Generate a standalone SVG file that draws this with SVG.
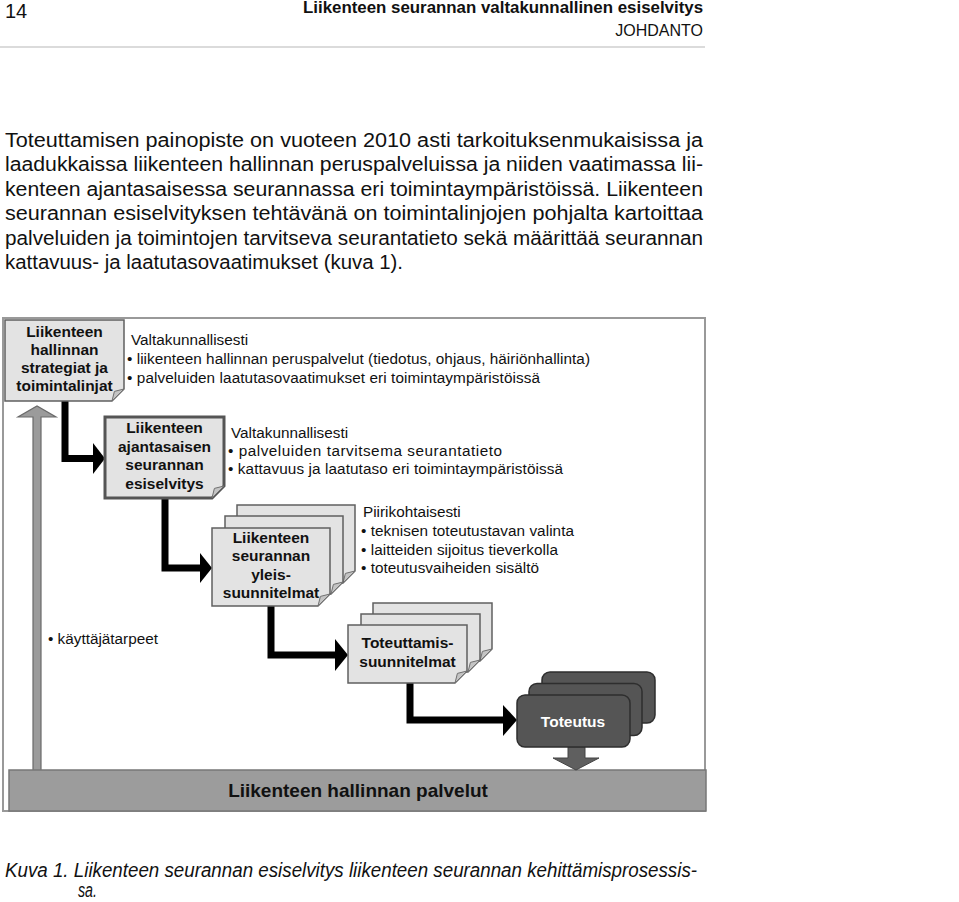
<svg xmlns="http://www.w3.org/2000/svg" width="959" height="902" viewBox="0 0 959 902">
<style>
text{font-family:"Liberation Sans",Arial,sans-serif;fill:#111}
.hdr{font-size:16px}
.b{font-weight:bold}
.para{font-size:19.5px}
.sm{font-size:15.3px}
.lbl{font-size:15.5px;font-weight:bold;text-anchor:middle}
.cap{font-size:19.5px;font-style:italic}
.box{fill:#e3e3e3;stroke:#606060;stroke-width:1.5}
.box2{fill:#e3e3e3;stroke:#555;stroke-width:3}
.fold{fill:#c4c4c4;stroke:#707070;stroke-width:1}
.dark{fill:#555;stroke:#2e2e2e;stroke-width:1.5}
.conn{fill:none;stroke:#000;stroke-width:7}
.head{fill:#000}
</style>
<rect width="959" height="902" fill="#fff"/>

<g id="header">
<text x="5" y="18" style="font-size:20px">14</text>
<text x="703" y="13" class="hdr b" text-anchor="end" textLength="400" lengthAdjust="spacingAndGlyphs">Liikenteen seurannan valtakunnallinen esiselvitys</text>
<text x="703" y="36" class="hdr" text-anchor="end">JOHDANTO</text>
<line x1="0" y1="47" x2="705" y2="47" stroke="#cfcfcf" stroke-width="1.5"/>
</g>

<g id="paragraph">
<text x="5" y="147" class="para" textLength="698" lengthAdjust="spacingAndGlyphs">Toteuttamisen painopiste on vuoteen 2010 asti tarkoituksenmukaisissa ja</text>
<text x="5" y="171" class="para" textLength="698" lengthAdjust="spacingAndGlyphs">laadukkaissa liikenteen hallinnan peruspalveluissa ja niiden vaatimassa lii-</text>
<text x="5" y="196" class="para" textLength="698" lengthAdjust="spacingAndGlyphs">kenteen ajantasaisessa seurannassa eri toimintaympäristöissä. Liikenteen</text>
<text x="5" y="220" class="para" textLength="698" lengthAdjust="spacingAndGlyphs">seurannan esiselvityksen tehtävänä on toimintalinjojen pohjalta kartoittaa</text>
<text x="5" y="245" class="para" textLength="698" lengthAdjust="spacingAndGlyphs">palveluiden ja toimintojen tarvitseva seurantatieto sekä määrittää seurannan</text>
<text x="5" y="269" class="para" textLength="398" lengthAdjust="spacingAndGlyphs">kattavuus- ja laatutasovaatimukset (kuva 1).</text>
</g>

<g id="frame">
<rect x="3" y="318" width="702" height="493" fill="none" stroke="#999" stroke-width="2"/>
</g>

<g id="feedback-arrow">
<path d="M33,771 V417 H18 L37,406 L56,417 H41 V771 Z" fill="#9b9b9b" stroke="#6a6a6a" stroke-width="1.2"/>
</g>

<g id="services">
<rect x="9" y="770" width="697" height="41" fill="#9c9c9c" stroke="#777" stroke-width="1.5"/>
<text x="358" y="797" text-anchor="middle" class="b" style="font-size:19px">Liikenteen hallinnan palvelut</text>
</g>

<g id="connectors">
<polyline class="conn" points="65,401 65,458.5 94,458.5"/>
<polygon class="head" points="93,443 105,458.5 93,474"/>
<polyline class="conn" points="165,498 165,568 201,568"/>
<polygon class="head" points="200,553 212,568 200,583"/>
<polyline class="conn" points="271,606 271,655 337,655"/>
<polygon class="head" points="335,639 348,655 335,671"/>
<polyline class="conn" points="410,683 410,720 505,720"/>
<polygon class="head" points="503,705 517,720 503,736"/>
<path d="M568,747 V758 H553 L576,770 L599,758 H585 V747 Z" fill="#5f5f5f" stroke="#444" stroke-width="1"/>
</g>

<g id="strategies">
<path class="box" d="M5,320 H124 V389 L112,401 H5 Z"/>
<path class="fold" d="M124,389 L112,401 L114.4,391.4 Z"/>
<text class="lbl" x="64.5" y="337">Liikenteen</text>
<text class="lbl" x="64.5" y="355">hallinnan</text>
<text class="lbl" x="64.5" y="373">strategiat ja</text>
<text class="lbl" x="64.5" y="391">toimintalinjat</text>
<text class="sm" x="131" y="345">Valtakunnallisesti</text>
<text class="sm" x="127" y="364" textLength="463">• liikenteen hallinnan peruspalvelut (tiedotus, ohjaus, häiriönhallinta)</text>
<text class="sm" x="127" y="383" textLength="413">• palveluiden laatutasovaatimukset eri toimintaympäristöissä</text>
</g>

<g id="prestudy">
<path class="box2" d="M105,417 H224 V486 L212,498 H105 Z"/>
<path class="fold" d="M224,486 L212,498 L214.4,488.4 Z"/>
<text class="lbl" x="164.5" y="433">Liikenteen</text>
<text class="lbl" x="164.5" y="451.5">ajantasaisen</text>
<text class="lbl" x="164.5" y="470">seurannan</text>
<text class="lbl" x="164.5" y="488.5">esiselvitys</text>
<text class="sm" x="231" y="438">Valtakunnallisesti</text>
<text class="sm" x="228" y="456" textLength="274">• palveluiden tarvitsema seurantatieto</text>
<text class="sm" x="228" y="474" textLength="335">• kattavuus ja laatutaso eri toimintaympäristöissä</text>
</g>

<g id="general-plans">
<path class="box" d="M237,505 H355 V571 L343,583 H237 Z"/>
<path class="fold" d="M355,571 L343,583 L345.4,573.4 Z"/>
<path class="box" d="M225,516 H343 V582 L331,594 H225 Z"/>
<path class="fold" d="M343,582 L331,594 L333.4,584.4 Z"/>
<path class="box" d="M212,528 H330 V594 L318,606 H212 Z"/>
<path class="fold" d="M330,594 L318,606 L320.4,596.4 Z"/>
<text class="lbl" x="271" y="543">Liikenteen</text>
<text class="lbl" x="271" y="561">seurannan</text>
<text class="lbl" x="271" y="580">yleis-</text>
<text class="lbl" x="271" y="598">suunnitelmat</text>
<text class="sm" x="363" y="517">Piirikohtaisesti</text>
<text class="sm" x="361" y="535.5" textLength="213">• teknisen toteutustavan valinta</text>
<text class="sm" x="361" y="554.5" textLength="197">• laitteiden sijoitus tieverkolla</text>
<text class="sm" x="361" y="573" textLength="178">• toteutusvaiheiden sisältö</text>
</g>

<g id="implementation-plans">
<path class="box" d="M373,603 H492 V649 L480,661 H373 Z"/>
<path class="fold" d="M492,649 L480,661 L482.4,651.4 Z"/>
<path class="box" d="M361,614 H480 V660 L468,672 H361 Z"/>
<path class="fold" d="M480,660 L468,672 L470.4,662.4 Z"/>
<path class="box" d="M348,625 H467 V671 L455,683 H348 Z"/>
<path class="fold" d="M467,671 L455,683 L457.4,673.4 Z"/>
<text class="lbl" x="407.5" y="648">Toteuttamis-</text>
<text class="lbl" x="407.5" y="667">suunnitelmat</text>
</g>

<g id="implementation">
<rect class="dark" x="542" y="672" width="113" height="51" rx="8"/>
<rect class="dark" x="529" y="683.5" width="113" height="52" rx="8"/>
<rect class="dark" x="517" y="695" width="113" height="52" rx="8"/>
<text class="lbl" x="573" y="727" style="fill:#fff">Toteutus</text>
</g>

<g id="user-needs">
<text class="sm" x="48" y="644">• käyttäjätarpeet</text>
</g>

<g id="caption">
<text x="5" y="877" class="cap" textLength="692" lengthAdjust="spacingAndGlyphs">Kuva 1. Liikenteen seurannan esiselvitys liikenteen seurannan kehittämisprosessis-</text>
<text x="78" y="897" class="cap" textLength="19" lengthAdjust="spacingAndGlyphs">sa.</text>
</g>
</svg>
